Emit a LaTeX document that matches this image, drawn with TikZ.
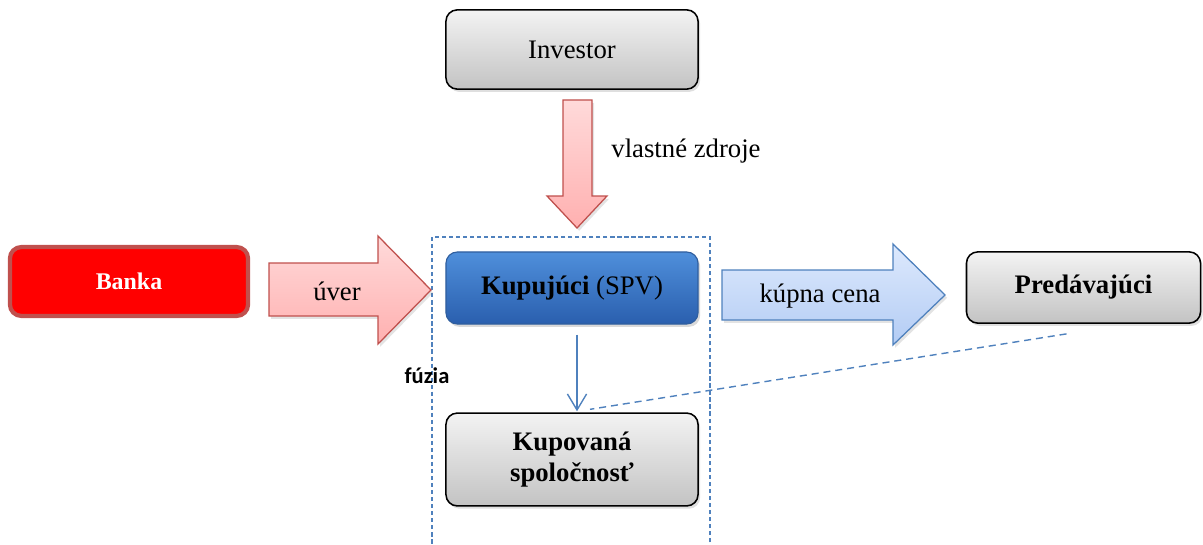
\documentclass[tikz,border=0pt]{standalone}
\usepackage{fontspec}
\setmainfont{Liberation Serif}
\newfontfamily\fuziafont{Carlito}
\usepackage{xcolor}
\usetikzlibrary{positioning,arrows.meta,calc,shadows}
\definecolor{grayTop}{HTML}{F3F3F3}
\definecolor{grayBot}{HTML}{C3C3C3}
\definecolor{bankFill}{HTML}{FF0000}
\definecolor{bankRim}{HTML}{C0504D}
\definecolor{spvTop}{HTML}{4F8FDB}
\definecolor{spvBot}{HTML}{2A5FAE}
\definecolor{spvRim}{HTML}{2F5E9E}
\definecolor{pinkTop}{HTML}{FFDADA}
\definecolor{pinkBot}{HTML}{FFB0B0}
\definecolor{paleTop}{HTML}{DDE9FD}
\definecolor{paleBot}{HTML}{B3CCF4}
\definecolor{linkBlue}{HTML}{4F81BD}

\begin{document}
\begin{tikzpicture}[
  x=0.025cm,y=-0.025cm,
  font=\fontsize{19}{22}\selectfont,
  %--- node styles ---
  party/.style  ={draw=black,line width=1.1pt,rounded corners=8pt,
                  top color=grayTop,bottom color=grayBot,text=black,
                  minimum width=6.3cm,align=center,
                  drop shadow={opacity=0.25,shadow xshift=1.5pt,shadow yshift=-2pt}},
  bank/.style   ={draw=bankRim,line width=3pt,rounded corners=8pt,fill=bankFill,
                  text=white,font=\fontsize{17}{20}\selectfont\bfseries,
                  minimum width=5.95cm,minimum height=1.72cm},
  spv/.style    ={draw=spvRim,line width=0.8pt,rounded corners=8pt,
                  top color=spvTop,bottom color=spvBot,text=black,
                  minimum width=6.3cm,minimum height=1.8cm,
                  drop shadow={opacity=0.3,shadow xshift=1.5pt,shadow yshift=-2pt}},
  flowlabel/.style={text=black,inner sep=1pt},
  %--- block arrow styles ---
  loanarrow/.style={draw=bankRim,line width=0.9pt,top color=pinkTop,bottom color=pinkBot,
                  drop shadow={opacity=0.22,shadow xshift=1.5pt,shadow yshift=-2pt}},
  payarrow/.style ={draw=linkBlue,line width=0.9pt,top color=paleTop,bottom color=paleBot,
                  drop shadow={opacity=0.22,shadow xshift=1.5pt,shadow yshift=-2pt}},
  %--- line styles ---
  merger/.style ={draw=linkBlue,line width=1pt,dash pattern=on 3pt off 2pt},
  link/.style   ={draw=linkBlue,line width=1pt,-{Straight Barb[length=4mm,width=4.8mm]}},
  tie/.style    ={draw=linkBlue,line width=1pt,dash pattern=on 5pt off 3.5pt},
]
\useasboundingbox (0,0) rectangle (1203,545);

%==================== merger frame ====================
\draw[merger] (432,237) rectangle (710,560);

%==================== block arrows ====================
\path[loanarrow] (563,100) -- (592,100) -- (592,196) -- (607,196) -- (577,228)
  -- (547,196) -- (563,196) -- cycle;
\path[loanarrow] (269,263) -- (378,263) -- (378,236) -- (431,290) -- (378,344)
  -- (378,316) -- (269,316) -- cycle;
\path[payarrow]  (722,270) -- (893,270) -- (893,244) -- (945,295) -- (893,345)
  -- (893,320) -- (722,320) -- cycle;

%==================== nodes ====================
\node[party,minimum height=1.98cm] (inv)  at (572,49.5)  {Investor};
\node[bank]                        (bank) at (129,281.5) {Banka};
\node[spv]                         (buy)  at (572,288)   {\textbf{Kupujúci} (SPV)};
\node[party,minimum height=2.32cm] (tgt)  at (572,459.5) {\textbf{Kupovaná}\\\textbf{spoločnosť}};
\node[party,minimum width=5.85cm,minimum height=1.78cm]
                                   (sell) at (1083.5,287.5) {\textbf{Predávajúci}};

%==================== labels ====================
\node[flowlabel] (own)   at (686,151) {vlastné zdroje};
\node[flowlabel] (loan)  at (337,291) {úver};
\node[flowlabel] (price) at (820,296) {kúpna cena};
\node[flowlabel,font=\fuziafont\fontsize{16}{18}\selectfont\bfseries]
                 (fuse)  at (427,376) {fúzia};

%==================== connectors ====================
\draw[link] ($(buy.south)+(5,10)$) -- ($(tgt.north)+(5,-1)$);
\draw[tie]  ($(sell.south)+(-17,10)$) -- ($(tgt.north)+(18,-3)$);

\end{tikzpicture}
\end{document}
